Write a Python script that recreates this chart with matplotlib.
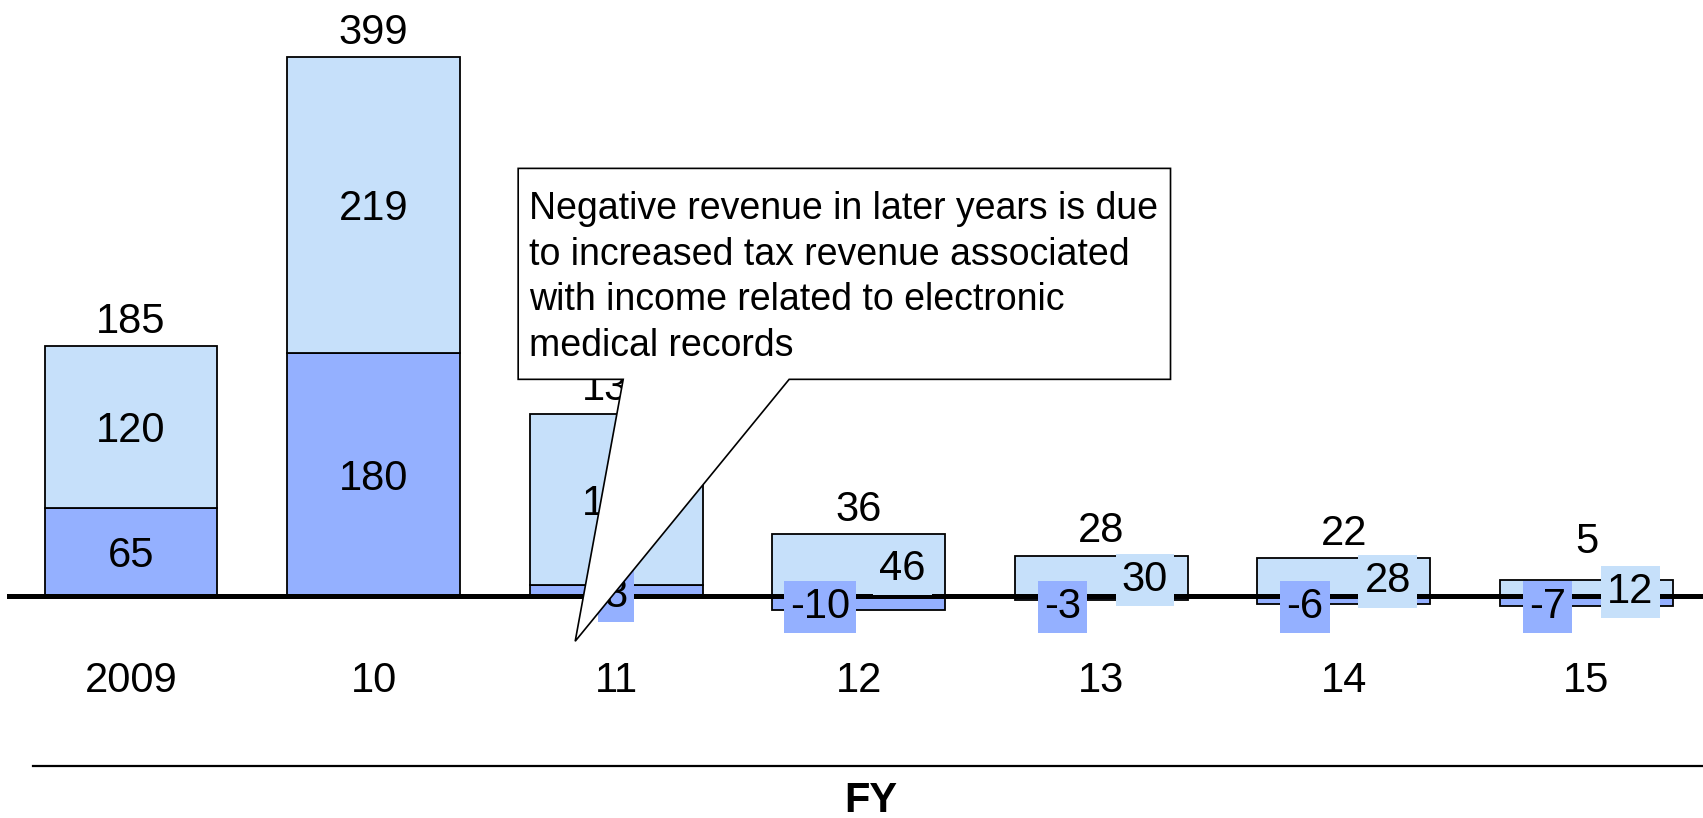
import matplotlib
matplotlib.use('Agg')
import matplotlib.pyplot as plt
from matplotlib.patches import Polygon
import numpy as np

plt.rcParams['font.family'] = ['Liberation Sans', 'DejaVu Sans']

# data
years = ['2009', '10', '11', '12', '13', '14', '15']
dark = [65, 180, 8, -10, -3, -6, -7]
light = [120, 219, 127, 46, 30, 28, 12]
totals = [185, 399, 135, 36, 28, 22, 5]
note = ('Negative revenue in later years is due\n'
        'to increased tax revenue associated\n'
        'with income related to electronic\n'
        'medical records')

DARK = '#94B0FF'
LIGHT = '#C6E0FA'

fig = plt.figure(figsize=(17.03, 8.18), dpi=100)
ax = fig.add_axes([0, 0, 1, 1])
ax.set_xlim(-0.54, 6.48)
ax.set_ylim(-164.1, 441.2)
ax.axis('off')

x = np.arange(len(years))
w = 0.713
ax.bar(x, dark, w, color=DARK, edgecolor='black', linewidth=1.3, zorder=2)
light_bottom = [max(d, 0) for d in dark]
ax.bar(x, light, w, bottom=light_bottom, color=LIGHT, edgecolor='black',
       linewidth=1.3, zorder=2)

# baseline
ax.axhline(0, xmin=9 / 1703, xmax=1, color='black', linewidth=3.6, zorder=3)

fs = 30
dy = -3  # text centre sits a bit high with va='center'
box = 'square,pad=0.15'
for i in range(len(years)):
    d, l = dark[i], light[i]
    if d < 0:
        ax.text(x[i] - 0.16, -8, str(d), ha='center', va='center', fontsize=fs,
                zorder=4, bbox=dict(boxstyle=box, fc=DARK, ec='none'))
        ax.text(x[i] + 0.18, l / 2 - 3, str(l), ha='center', va='center', fontsize=fs,
                zorder=4, bbox=dict(boxstyle=box, fc=LIGHT, ec='none'))
    elif d < 15:
        ax.text(x[i], 0, str(d), ha='center', va='center', fontsize=fs,
                zorder=4, bbox=dict(boxstyle=box, fc=DARK, ec='none'))
        ax.text(x[i], d + l / 2 + dy, str(l), ha='center', va='center', fontsize=fs, zorder=4)
    else:
        ax.text(x[i], d / 2 + dy, str(d), ha='center', va='center', fontsize=fs, zorder=4)
        ax.text(x[i], d + l / 2 + dy, str(l), ha='center', va='center', fontsize=fs, zorder=4)
    top = max(light_bottom[i] + l, 22)
    ax.text(x[i], top + 18, str(totals[i]), ha='center', va='center', fontsize=fs, zorder=4)
    ax.text(x[i], -63, years[i], ha='center', va='center', fontsize=fs)

# callout
callout = Polygon([(1.596, 316.6), (4.285, 316.6), (4.285, 160.5), (2.713, 160.5),
                   (1.831, -33.3), (2.029, 160.5), (1.596, 160.5)],
                  closed=True, fc='white', ec='black', linewidth=1.2, zorder=6)
ax.add_patch(callout)
ax.text(1.64, 236, note, ha='left', va='center', fontsize=27, linespacing=1.34, zorder=7)

# FY axis title
ax.axhline(-125.7, xmin=33 / 1703, xmax=1, color='black', linewidth=1.6)
ax.text(3.05, -151.2, 'FY', ha='center', va='center', fontsize=30, fontweight='bold')

fig.savefig('out.png', dpi=100)
